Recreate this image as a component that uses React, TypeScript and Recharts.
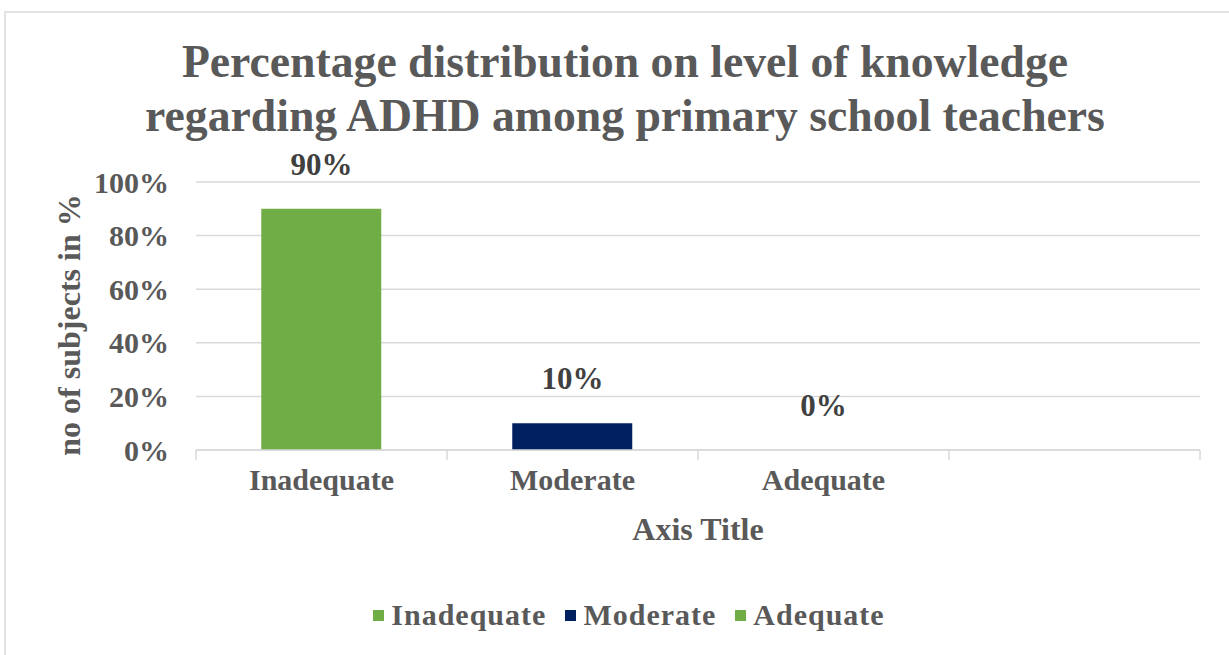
import React from 'react';
import { ComposedChart, Bar, Line, XAxis, YAxis, CartesianGrid, Cell, LabelList, Legend } from 'recharts';

const categories = ['Inadequate', 'Moderate', 'Adequate', ''];
const percentValues: (number | null)[] = [90, 10, 0, null];
const barColors = ['#70AD47', '#002060', '#70AD47', '#70AD47'];
const legendLabels = ['Inadequate', 'Moderate', 'Adequate'];
const legendColors = ['#70AD47', '#002060', '#70AD47'];
const yTicks = [0, 20, 40, 60, 80, 100];
const titleLines = [
  'Percentage distribution on level of knowledge',
  'regarding ADHD among primary school teachers',
];
const yAxisTitle = 'no of subjects in %';
const xAxisTitle = 'Axis Title';

const data = categories.map((c, i) => ({ name: c, value: percentValues[i] }));

const FONT = '"Liberation Serif", "Times New Roman", serif';
const GRAY = '#595959';

const XTick = (props: any) => {
  const { x, y, payload, index } = props;
  const off = payload.offset || 0;
  return (
    <g>
      <line x1={x - off} x2={x - off} y1={y} y2={y + 10} stroke="#d9d9d9" strokeWidth={1.5} />
      {index === categories.length - 1 && (
        <line x1={x + off} x2={x + off} y1={y} y2={y + 10} stroke="#d9d9d9" strokeWidth={1.5} />
      )}
      <text x={x} y={y + 40} textAnchor="middle" fill={GRAY} fontSize={30} fontWeight="bold" fontFamily={FONT}>
        {payload.value}
      </text>
    </g>
  );
};

const YLabel = (props: any) => {
  const { viewBox } = props;
  const cx = viewBox.x + 69;
  const cy = viewBox.y + viewBox.height / 2 + 9;
  return (
    <text
      x={cx}
      y={cy}
      transform={`rotate(-90 ${cx} ${cy})`}
      textAnchor="middle"
      dominantBaseline="central"
      fill={GRAY}
      fontSize={32}
      fontWeight="bold"
      fontFamily={FONT}
    >
      {yAxisTitle}
    </text>
  );
};

const LegendContent = () => (
  <div style={{ display: 'flex', justifyContent: 'center', alignItems: 'center', gap: 19, fontFamily: FONT, fontWeight: 'bold', fontSize: 30, letterSpacing: 1, color: GRAY, height: 36 }}>
    {legendLabels.map((l, i) => (
      <div key={l} style={{ display: 'flex', alignItems: 'center', gap: 7 }}>
        <span style={{ display: 'inline-block', width: 11, height: 11, background: legendColors[i] }} />
        <span>{l}</span>
      </div>
    ))}
  </div>
);

export default function App() {
  return (
    <div style={{ position: 'absolute', left: 0, top: 0, width: 1229, height: 655, background: '#fff', overflow: 'hidden' }}>
      <div style={{ position: 'absolute', left: 4, top: 11, width: 1240, height: 660, border: '2px solid #e3e3e3', boxSizing: 'border-box' }} />
      <div style={{ position: 'absolute', left: 0, top: 35, width: 1250, textAlign: 'center', fontFamily: FONT, fontWeight: 'bold', fontSize: 45.7, lineHeight: '54px', color: GRAY }}>
        {titleLines.map((t) => (
          <div key={t}>{t}</div>
        ))}
      </div>
      <ComposedChart
        width={1229}
        height={655}
        data={data}
        margin={{ top: 182, right: 29, left: 0, bottom: 74 }}
        barCategoryGap="26%"
      >
        <CartesianGrid vertical={false} stroke="#d9d9d9" strokeWidth={1.5} />
        <XAxis
          dataKey="name"
          axisLine={{ stroke: '#d9d9d9', strokeWidth: 1.5 }}
          tickLine={false}
          tickSize={0}
          tickMargin={0}
          height={95}
          interval={0}
          tick={<XTick />}
          label={{ value: xAxisTitle, position: 'insideBottom', offset: 5, fill: GRAY, fontSize: 32, fontWeight: 'bold', fontFamily: FONT }}
        />
        <YAxis
          width={196}
          domain={[0, 100]}
          ticks={yTicks}
          tickFormatter={(v: number) => `${v}%`}
          axisLine={false}
          tickLine={false}
          tickSize={0}
          tickMargin={27}
          tick={{ fill: GRAY, fontSize: 30, fontWeight: 'bold', fontFamily: FONT }}
          label={<YLabel />}
        />
        <Legend verticalAlign="bottom" height={36} content={<LegendContent />} wrapperStyle={{ bottom: 22, height: 36, left: 58, width: 1142 }} />
        <Bar dataKey="value" isAnimationActive={false} legendType="none">
          {data.map((d, i) => (
            <Cell key={i} fill={barColors[i]} />
          ))}
        </Bar>
        <Line dataKey="value" stroke="none" dot={false} activeDot={false} isAnimationActive={false} legendType="none">
          <LabelList
            dataKey="value"
            position="top"
            offset={34}
            formatter={(v: any) => (v === null || v === undefined ? '' : `${v}%`)}
            fill="#404040"
            fontSize={31}
            fontWeight="bold"
            fontFamily={FONT}
          />
        </Line>
      </ComposedChart>
    </div>
  );
}
